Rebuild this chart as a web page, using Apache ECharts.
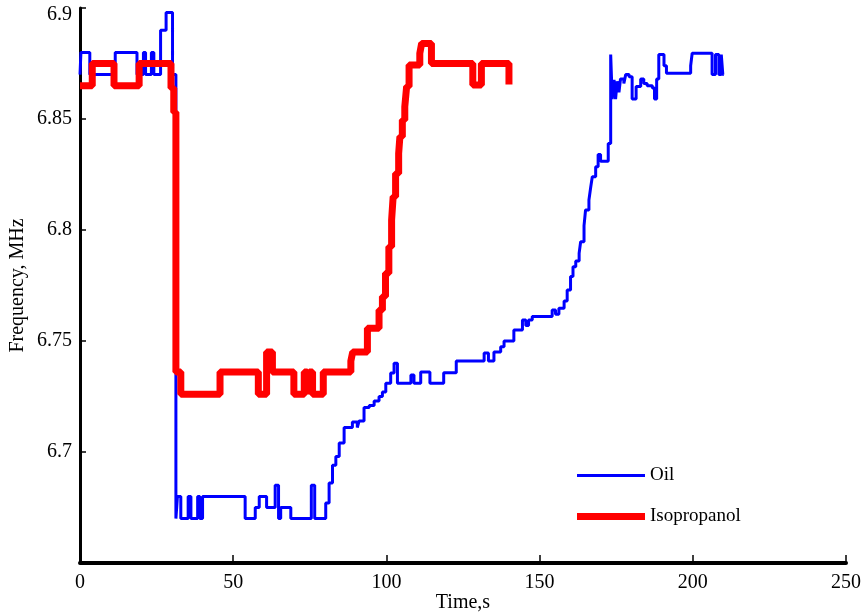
<!DOCTYPE html>
<html>
<head>
<meta charset="utf-8">
<title>Frequency vs Time</title>
<script src="https://cdn.jsdelivr.net/npm/echarts@6/dist/echarts.min.js"></script>
<style>
  html, body { margin: 0; padding: 0; background: #fff; }
  #chart { width: 866px; height: 613px; }
</style>
</head>
<body>
<div id="chart"></div>
<script>
// Time (s) at which each reading starts, and the frequency (MHz) held from then on.
const oilTime = [
  0, 0.3, 3.2, 11.5, 18.6, 20.7, 21.4, 23.3, 24.1, 26.3, 28.1, 30.2, 31.3,
  31.8, 32.9, 35.3, 36.2, 38.4, 39.1, 40.0, 53.9, 57.2, 58.5, 60.9, 63.7, 64.8,
  65.5, 68.8, 75.5, 76.6, 80.2, 81.3, 82.4, 83.5, 84.6, 86.2, 88.9, 90.5, 91.1,
  92.7, 94.4, 96.0, 97.6, 98.7, 99.8, 101.4, 102.5, 103.6, 108.0, 109.0, 111.2,
  114.2, 118.7, 122.8, 131.9, 133.3, 135.1, 137.3, 138.4, 141.6, 144.4, 145.5,
  146.4, 147.6, 154.1, 155.2, 156.3, 158.0, 159.0, 160.1, 160.9, 161.8, 162.9,
  163.4, 164.5, 165.0, 166.1, 166.7, 167.2, 168.3, 169.1, 169.9, 172.4, 173.2,
  173.7, 174.3, 174.8, 175.3, 175.9, 176.4, 177.5, 178.1, 179.2, 180.2, 181.5,
  183.0, 184.0, 185.1, 186.8, 187.5, 188.2, 188.9, 190.6, 191.4, 199.3, 199.8,
  206.3, 207.4, 208.5, 209.3, 209.8, 210.1
];
const oilFreq = [
  6.87, 6.88, 6.87, 6.88, 6.87, 6.88, 6.87, 6.88, 6.87, 6.89, 6.898, 6.87, 6.67,
  6.68, 6.67, 6.68, 6.67, 6.68, 6.67, 6.68, 6.67, 6.675, 6.68, 6.675, 6.685, 6.67,
  6.675, 6.67, 6.685, 6.67, 6.677, 6.686, 6.694, 6.698, 6.704, 6.711, 6.7135, 6.711, 6.714,
  6.72, 6.721, 6.723, 6.725, 6.727, 6.731, 6.7356, 6.74, 6.731, 6.7347, 6.731, 6.736,
  6.731, 6.7357, 6.741, 6.7446, 6.741, 6.745, 6.7474, 6.75, 6.755, 6.7595, 6.757,
  6.7595, 6.761, 6.764, 6.762, 6.7647, 6.768, 6.773, 6.779, 6.7835, 6.786, 6.7895,
  6.7947, 6.802, 6.809, 6.8135, 6.8195, 6.824, 6.8285, 6.834, 6.831, 6.839, 6.879,
  6.859, 6.8676, 6.859, 6.867, 6.862, 6.868, 6.866, 6.87, 6.869, 6.859, 6.8646,
  6.868, 6.866, 6.865, 6.864, 6.859, 6.868, 6.879, 6.874, 6.8706, 6.874, 6.8796,
  6.87, 6.879, 6.87, 6.879, 6.87, 6.87
];

const ipaTime = [
  0, 4.0, 11.1, 19.3, 29.7, 30.6, 31.3, 32.9, 45.7, 58.2, 60.9, 62.8, 69.8,
  73.2, 74.2, 74.8, 75.9, 79.4, 88.4, 89.0, 93.8, 97.6, 98.7, 99.7, 100.8,
  101.7, 102.2, 103.0, 104.0, 104.4, 105.2, 106.0, 106.6, 107.4, 110.9, 111.5,
  114.7, 128.2, 131.0, 140.0
];
const ipaFreq = [
  6.865, 6.875, 6.865, 6.875, 6.864, 6.853, 6.736, 6.726, 6.736, 6.726, 6.745, 6.736, 6.726,
  6.736, 6.726, 6.736, 6.726, 6.736, 6.741, 6.745, 6.7557, 6.764, 6.77, 6.7805, 6.7925,
  6.8045, 6.815, 6.8255, 6.8345, 6.842, 6.8495, 6.8555, 6.8646, 6.8743, 6.8796, 6.884,
  6.875, 6.8653, 6.875, 6.8655
];

const seriesNames = ['Oil', 'Isopropanol'];
const timeTicks = { min: 0, max: 250, step: 50 };
const freqTicks = { min: 6.65, max: 6.9, step: 0.05 };

const OIL_BLUE = '#0000ff';
const IPA_RED = '#ff0000';
const OIL_WIDTH = 3;
const IPA_WIDTH = 7;

const pairs = (xs, ys) => xs.map((x, i) => [x, ys[i]]);
const serif = 'Liberation Serif, Times New Roman, serif';

// One legend per series so each key line keeps its own stroke thickness.
const legendBox = (name, top, thickness) => ({
  orient: 'vertical',
  left: 572,
  top: top,
  icon: 'rect',
  itemWidth: 68,
  itemHeight: thickness,
  textStyle: { fontFamily: serif, fontSize: 19, color: '#000', padding: [0, 0, 0, 0] },
  data: [name]
});

// Frequency tick text: the bottom value is left blank, the top one sits a little lower.
const freqLabel = v => {
  if (v < freqTicks.min + 0.01) return '';
  const text = String(parseFloat(v.toFixed(2)));
  return v > freqTicks.max - 0.01 ? '{top|' + text + '}' : text;
};

const chart = echarts.init(document.getElementById('chart'), null, { renderer: 'canvas' });
chart.setOption({
  animation: false,
  backgroundColor: '#ffffff',
  grid: { left: 80, right: 20, top: 8, bottom: 50, containLabel: false, outerBoundsMode: 'none' },
  legend: [
    legendBox(seriesNames[0], 461, OIL_WIDTH),
    legendBox(seriesNames[1], 502, IPA_WIDTH)
  ],
  xAxis: {
    type: 'value',
    min: timeTicks.min,
    max: timeTicks.max,
    interval: timeTicks.step,
    name: 'Time,s',
    nameLocation: 'middle',
    nameGap: 30,
    nameMoveOverlap: false,
    nameTextStyle: { fontFamily: serif, fontSize: 20, color: '#000' },
    axisLine: { lineStyle: { color: '#000', width: 4 } },
    axisTick: { inside: true, length: 8, lineStyle: { color: '#000', width: 1.5 } },
    axisLabel: { fontFamily: serif, fontSize: 20, color: '#000', margin: 10 },
    splitLine: { show: false }
  },
  yAxis: {
    type: 'value',
    min: freqTicks.min,
    max: freqTicks.max,
    interval: freqTicks.step,
    name: 'Frequency, MHz',
    nameLocation: 'middle',
    nameRotate: 90,
    nameGap: 52,
    nameMoveOverlap: false,
    nameTextStyle: { fontFamily: serif, fontSize: 20, color: '#000' },
    axisLine: { lineStyle: { color: '#000', width: 3 } },
    axisTick: { inside: true, length: 6, lineStyle: { color: '#000', width: 1.5 } },
    axisLabel: {
      fontFamily: serif, fontSize: 20, color: '#000', margin: 8,
      formatter: freqLabel,
      rich: { top: { fontFamily: serif, fontSize: 20, color: '#000', padding: [14, 0, 0, 0] } }
    },
    splitLine: { show: false }
  },
  series: [
    {
      name: seriesNames[0],
      type: 'line',
      step: 'end',
      showSymbol: false,
      symbol: 'none',
      color: OIL_BLUE,
      lineStyle: { color: OIL_BLUE, width: OIL_WIDTH },
      data: pairs(oilTime, oilFreq),
      z: 2
    },
    {
      name: seriesNames[1],
      type: 'line',
      step: 'end',
      showSymbol: false,
      symbol: 'none',
      color: IPA_RED,
      lineStyle: { color: IPA_RED, width: IPA_WIDTH },
      data: pairs(ipaTime, ipaFreq),
      z: 3
    }
  ]
});
</script>
</body>
</html>
